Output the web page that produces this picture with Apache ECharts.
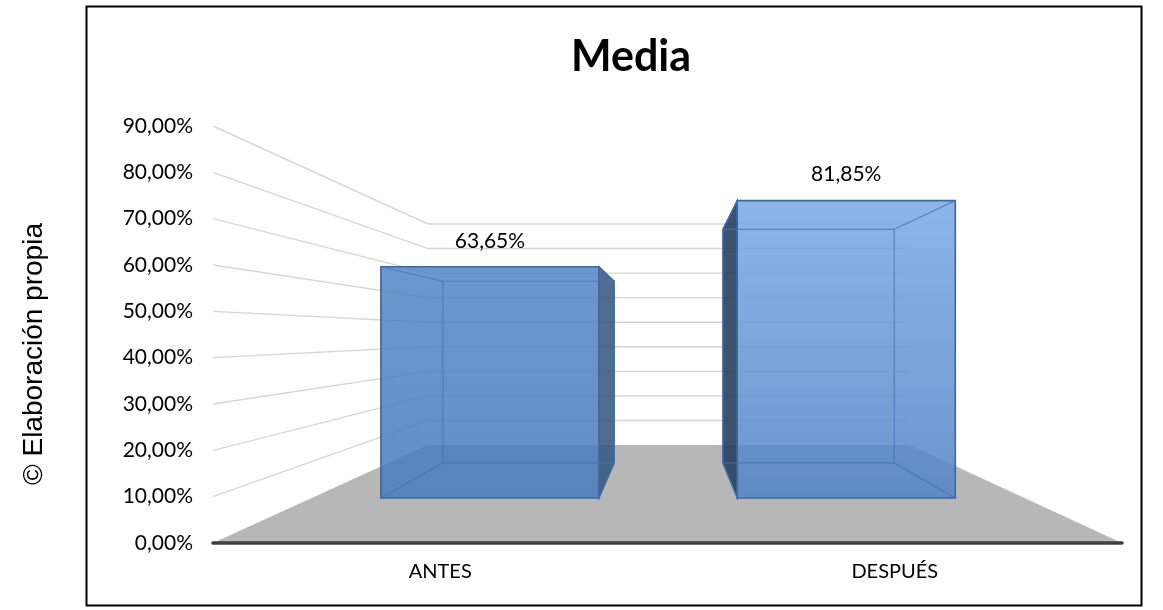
<!DOCTYPE html>
<html>
<head>
<meta charset="utf-8">
<title>Media</title>
<script src="https://cdn.jsdelivr.net/npm/echarts@6/dist/echarts.min.js"></script>
<style>
  html, body { margin: 0; padding: 0; background: #ffffff; }
  #chart { width: 1163px; height: 610px; }
</style>
</head>
<body>
<div id="chart"></div>
<script>
// Chart data
const categories = ['ANTES', 'DESPUÉS'];
const mediaValues = [0.6365, 0.8185];
const yTicks = [0, 0.1, 0.2, 0.3, 0.4, 0.5, 0.6, 0.7, 0.8, 0.9];

// Perspective settings: the front plane is the cartesian grid, deeper planes
// shrink toward a vanishing point near the centre of the grid.
const VANISH_FX = 0.503;   // fraction of grid width
const VANISH_FY = 0.5;     // fraction of grid height
const WALL_K = 0.53;       // scale of the back wall
const BAR_FRONT_K = 0.784; // scale of a bar's front face
const BAR_BACK_K = 0.616;  // scale of a bar's back face
const BAR_WIDTH = 0.612;   // bar width as share of the category band

const BAR_STYLES = [
  { top: 'rgba(82,133,197,0.85)', bottom: 'rgba(73,122,188,0.86)', side: 'rgba(54,89,130,0.88)' },
  { top: 'rgba(121,168,229,0.85)', bottom: 'rgba(82,131,197,0.86)', side: 'rgba(38,63,96,0.9)' }
];

const FONT = 'Lato, "Open Sans", sans-serif';

function vanish(cs) {
  return [cs.x + cs.width * VANISH_FX, cs.y + cs.height * VANISH_FY];
}
function project(p, k, v) {
  return [v[0] + (p[0] - v[0]) * k, v[1] + (p[1] - v[1]) * k];
}
function pct(v) {
  return (v * 100).toFixed(2).replace('.', ',') + '%';
}

const chart = echarts.init(document.getElementById('chart'), null, { renderer: 'canvas' });

const option = {
  animation: false,
  backgroundColor: '#ffffff',
  title: {
    text: 'Media',
    left: 626,
    top: 31,
    textAlign: 'center',
    textStyle: { fontFamily: FONT, fontWeight: 'bold', fontSize: 43, color: '#000000' }
  },
  grid: { left: 213, right: 41, top: 126, bottom: 67, containLabel: false },
  xAxis: {
    type: 'category',
    data: categories,
    z: 10,
    axisLine: { show: true, lineStyle: { color: '#3f3f3f', width: 3.5, cap: 'round' } },
    axisTick: { show: false },
    axisLabel: { margin: 19, fontFamily: FONT, fontSize: 20, color: '#000000' },
    splitLine: { show: false }
  },
  yAxis: {
    type: 'value',
    min: 0,
    max: 0.9,
    interval: 0.1,
    axisLine: { show: false },
    axisTick: { show: false },
    splitLine: { show: false },
    axisLabel: { margin: 20, fontFamily: FONT, fontSize: 21, color: '#000000', formatter: pct }
  },
  graphic: [
    {
      type: 'rect',
      shape: { x: 86.5, y: 6.5, width: 1055, height: 599 },
      style: { fill: 'none', stroke: '#000000', lineWidth: 2 },
      z: 100
    },
    {
      type: 'text',
      x: 34,
      y: 354,
      rotation: Math.PI / 2,
      style: {
        text: '© Elaboración propia',
        fontFamily: '"Liberation Sans", Arial, sans-serif',
        fontSize: 28,
        fill: '#000000',
        align: 'center',
        verticalAlign: 'middle'
      }
    }
  ],
  series: [
    {
      // floor
      type: 'custom',
      z: 1,
      silent: true,
      data: [[0, 0]],
      renderItem: function (params, api) {
        const cs = params.coordSys;
        const v = vanish(cs);
        const y0 = api.coord([0, 0])[1];
        const fl = [cs.x, y0], fr = [cs.x + cs.width, y0];
        const bl = project(fl, WALL_K, v), br = project(fr, WALL_K, v);
        return {
          type: 'polygon',
          shape: { points: [fl, fr, br, bl] },
          style: { fill: '#b7b7b7' }
        };
      }
    },
    {
      // side and back wall gridlines
      type: 'custom',
      z: 2,
      silent: true,
      data: yTicks.filter(function (t) { return t > 0; }).map(function (t) { return [0, t]; }),
      renderItem: function (params, api) {
        const cs = params.coordSys;
        const v = vanish(cs);
        const y = api.coord([0, api.value(1)])[1];
        const fl = [cs.x, y], fr = [cs.x + cs.width, y];
        const bl = project(fl, WALL_K, v), br = project(fr, WALL_K, v);
        return {
          type: 'polyline',
          shape: { points: [fl, bl, br] },
          style: { stroke: '#d6d6d6', lineWidth: 1.4, fill: 'none' }
        };
      }
    },
    {
      // 3D bars
      type: 'custom',
      z: 3,
      data: mediaValues.map(function (val, i) { return [i, val]; }),
      renderItem: function (params, api) {
        const cs = params.coordSys;
        const v = vanish(cs);
        const i = api.value(0);
        const val = api.value(1);
        const top = api.coord([i, val]);
        const base = api.coord([i, 0]);
        const bw = api.size([1, 0])[0] * BAR_WIDTH;
        const x0 = top[0] - bw / 2, x1 = top[0] + bw / 2;
        const plane = [[x0, top[1]], [x1, top[1]], [x1, base[1]], [x0, base[1]]];
        const F = plane.map(function (p) { return project(p, BAR_FRONT_K, v); });
        const B = plane.map(function (p) { return project(p, BAR_BACK_K, v); });
        const st = BAR_STYLES[i % BAR_STYLES.length];
        const side = top[0] < v[0]
          ? [F[1], B[1], B[2], F[2]]
          : [F[0], B[0], B[3], F[3]];
        const edge = '#3e679f';
        const inner = 'rgba(70,115,180,0.75)';
        const children = [
          {
            type: 'polygon',
            shape: { points: side },
            style: { fill: st.side, stroke: edge, lineWidth: 1.3 }
          },
          {
            type: 'polygon',
            shape: { points: F },
            style: {
              fill: new echarts.graphic.LinearGradient(0, 0, 0, 1, [
                { offset: 0, color: st.top },
                { offset: 1, color: st.bottom }
              ]),
              stroke: edge,
              lineWidth: 1.6
            }
          },
          {
            type: 'polygon',
            shape: { points: B },
            style: { fill: 'none', stroke: inner, lineWidth: 1.2 }
          }
        ];
        for (let j = 0; j < 4; j++) {
          children.push({
            type: 'line',
            shape: { x1: F[j][0], y1: F[j][1], x2: B[j][0], y2: B[j][1] },
            style: { stroke: inner, lineWidth: 1.2 }
          });
        }
        const cx = (F[0][0] + F[1][0]) / 2;
        children.push({
          type: 'text',
          x: cx,
          y: F[0][1] - 26,
          style: {
            text: pct(val),
            fontFamily: FONT,
            fontSize: 21,
            fill: '#000000',
            align: 'center',
            verticalAlign: 'middle'
          }
        });
        return { type: 'group', children: children };
      }
    }
  ]
};

chart.setOption(option);
</script>
</body>
</html>
